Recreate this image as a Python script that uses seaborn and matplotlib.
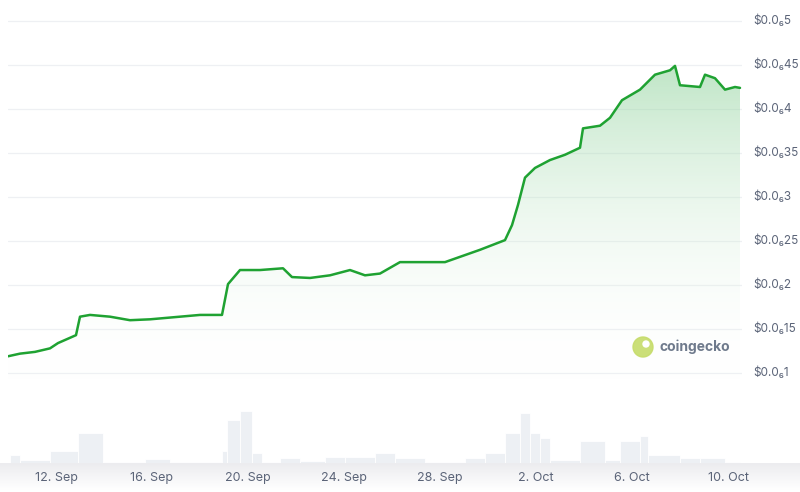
import numpy as np
import matplotlib
matplotlib.use("Agg")
import matplotlib.pyplot as plt
import seaborn as sns
from matplotlib.patches import Polygon, Circle

sns.set_theme(style="white")
plt.rcParams['font.family'] = ['Inter', 'DejaVu Sans']

# price (units of 1e-7 USD), time in hours since 10 Sep 00:00
hours = [0, 12, 27, 42, 50, 62, 68, 72, 82, 102, 122, 142, 172, 192, 214, 220, 232, 252, 275, 284,
         302, 322, 342, 357, 372, 392, 412, 437, 452, 472, 497, 504, 510, 517, 527, 542, 557, 572,
         575, 592, 602, 614, 632, 647, 662, 667, 672, 692, 697, 707, 717, 727, 732]
price = [1.19, 1.22, 1.24, 1.28, 1.34, 1.40, 1.43, 1.64, 1.66, 1.64, 1.60, 1.61, 1.64, 1.66, 1.66,
         2.01, 2.17, 2.17, 2.19, 2.09, 2.08, 2.11, 2.17, 2.11, 2.13, 2.26, 2.26, 2.26, 2.32, 2.40,
         2.51, 2.68, 2.91, 3.22, 3.33, 3.42, 3.48, 3.56, 3.78, 3.81, 3.90, 4.10, 4.22, 4.39, 4.44,
         4.49, 4.27, 4.25, 4.39, 4.35, 4.22, 4.25, 4.24]

# volume segments (start hour, relative volume)
vol_start = [2, 12, 42, 70, 95, 137, 162, 214, 219, 232, 244, 254, 272, 292, 317, 337, 367, 387,
             417, 457, 477, 497, 512, 522, 532, 542, 572, 597, 612, 632, 640, 672, 692, 717]
vol_end_last = 732
volume = [8, 3, 12, 30, 1, 4, 1, 12, 43, 52, 10, 1, 5, 2, 6, 6, 10, 5, 1, 5, 10, 30, 50, 30, 25,
          3, 22, 3, 22, 27, 8, 5, 5, 1]

yticks = [1, 1.5, 2, 2.5, 3, 3.5, 4, 4.5, 5]
ytick_labels = ["$0.0₆1", "$0.0₆15", "$0.0₆2", "$0.0₆25", "$0.0₆3", "$0.0₆35", "$0.0₆4",
                "$0.0₆45", "$0.0₆5"]
xtick_hours = [48, 144, 240, 336, 432, 528, 624, 720]
xtick_labels = ["12. Sep", "16. Sep", "20. Sep", "24. Sep", "28. Sep", "2. Oct", "6. Oct", "10. Oct"]

W, H = 800, 492
fig = plt.figure(figsize=(8, 4.92), dpi=100)
XMIN, XMAX = 0, 734
x0, x1 = 8 / W, 742 / W

# strip behind tick labels
strip = fig.add_axes([0, (H - 490) / H, 1, 27 / H])
grad = np.linspace(1, 0, 50).reshape(-1, 1)
strip.imshow(grad, aspect='auto', cmap=matplotlib.colors.LinearSegmentedColormap.from_list(
    "g", ["#ffffff", "#ececef"]), extent=[0, 1, 0, 1], vmin=0, vmax=1)
strip.axis('off')

# volume axes
vax = fig.add_axes([x0, (H - 463) / H, x1 - x0, 58 / H])
widths = np.diff(vol_start + [vol_end_last])
vax.bar(vol_start, volume, width=widths, align='edge', color="#edf0f4", edgecolor="white", linewidth=0.6)
vax.set_xlim(XMIN, XMAX)
vax.set_ylim(0, 58)
vax.axis('off')
for h, lab in zip(xtick_hours, xtick_labels):
    fig.text(x0 + (h - XMIN) / (XMAX - XMIN) * (x1 - x0), (H - 478) / H, lab,
             ha='center', va='center', fontsize=9, color="#5b6478")

# main axes
ax = fig.add_axes([x0, (H - 400) / H, x1 - x0, 400 / H])
ax.set_xlim(XMIN, XMAX)
ax.set_ylim(1 - 27 / 88, 1 + 373 / 88)
ax.patch.set_alpha(0)
for v in yticks:
    ax.axhline(v, color="#eef0f3", lw=0.9, zorder=0)
ax.set_yticks([]); ax.set_xticks([])
for s in ax.spines.values():
    s.set_visible(False)

# gradient fill
ymin_fill = 0.9
g = np.linspace(0, 1, 256).reshape(-1, 1)
cmap = matplotlib.colors.LinearSegmentedColormap.from_list(
    "gf", [(1, 1, 1, 0.0), (0.55, 0.82, 0.6, 0.55)])
im = ax.imshow(g, aspect='auto', cmap=cmap, origin='lower',
               extent=[XMIN, XMAX, ymin_fill, max(price)], zorder=1)
poly = Polygon(list(zip(hours, price)) + [(hours[-1], ymin_fill), (hours[0], ymin_fill)],
               closed=True, transform=ax.transData, facecolor='none', edgecolor='none')
ax.add_patch(poly)
im.set_clip_path(poly)
sns.lineplot(x=hours, y=price, ax=ax, color="#1fa232", lw=1.8, zorder=3)

for v, lab in zip(yticks, ytick_labels):
    yfrac = ax.transAxes.inverted().transform(ax.transData.transform((0, v)))[1]
    fig.text(753 / W, (H - 400) / H + yfrac * 400 / H, lab, fontsize=8.5, color="#5b6478",
             va='center', ha='left')

# watermark
logo = fig.add_axes([0, 0, 1, 1]); logo.axis('off')
logo.set_xlim(0, W); logo.set_ylim(H, 0)
logo.add_patch(Circle((643, 347), 10, color="#c6dc6a", alpha=0.9))
logo.add_patch(Circle((646, 344), 3, color="white"))
logo.text(660, 347, "coingecko", fontsize=10, fontweight='bold', color="#6f7a8c", va='center')

fig.savefig("out.png", dpi=100)
